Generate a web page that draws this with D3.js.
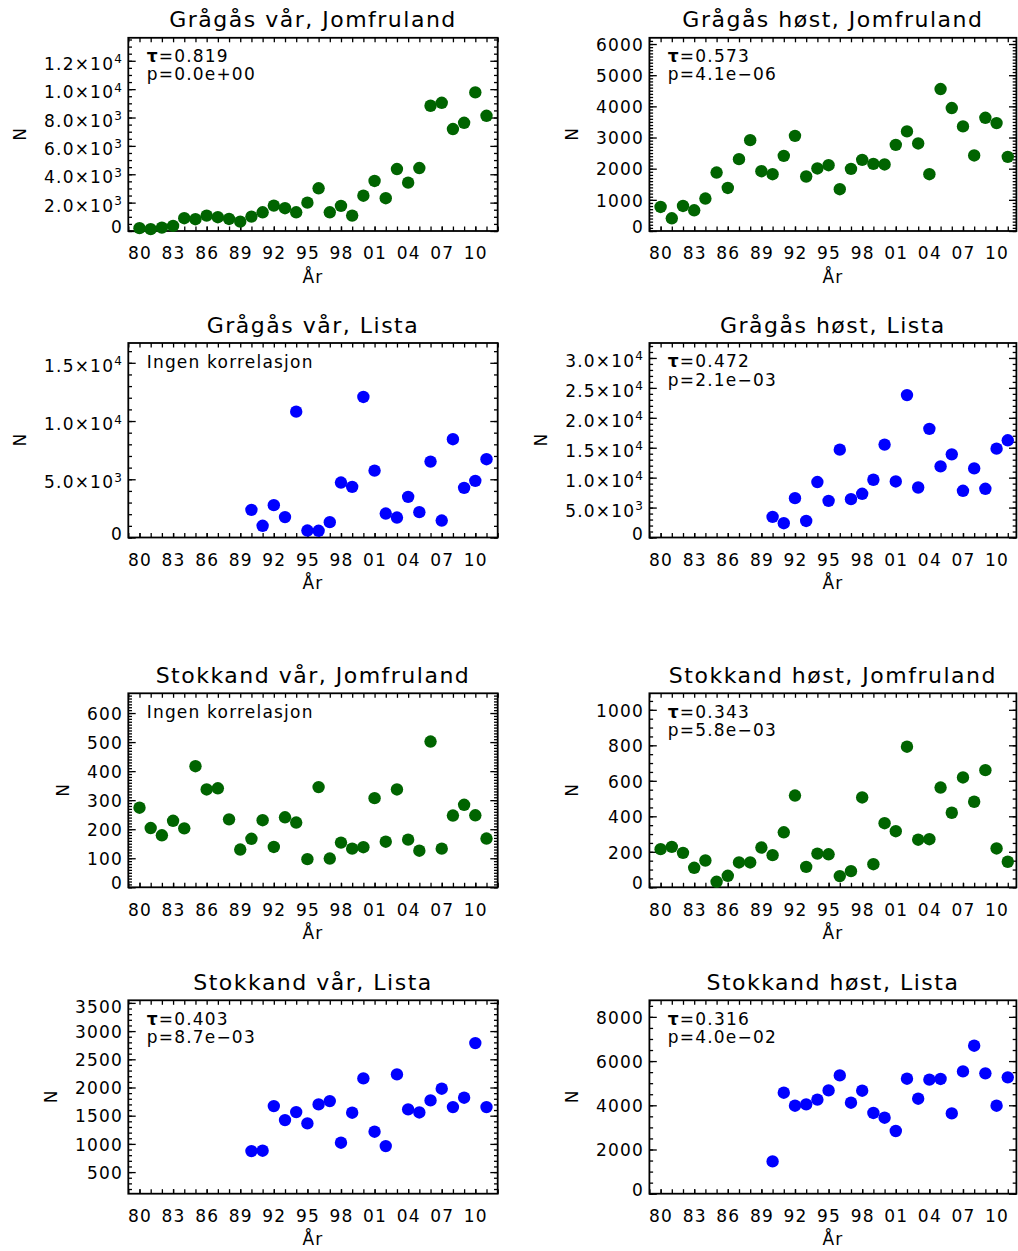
<!DOCTYPE html>
<html>
<head>
<meta charset="utf-8">
<script src="https://cdn.jsdelivr.net/npm/d3@7"></script>
<style>
  body { margin: 0; background: #fff; }
  text { font-family: "DejaVu Sans", sans-serif; fill: #000; }
</style>
</head>
<body>
<svg id="chart"></svg>
<script>
// Years for the two stations
const yearsJomfruland = [1980, 1981, 1982, 1983, 1984, 1985, 1986, 1987, 1988, 1989,
    1990, 1991, 1992, 1993, 1994, 1995, 1996, 1997, 1998, 1999,
    2000, 2001, 2002, 2003, 2004, 2005, 2006, 2007, 2008, 2009, 2010, 2011];
const yearsLista = [1990, 1991, 1992, 1993, 1994, 1995, 1996, 1997, 1998, 1999,
    2000, 2001, 2002, 2003, 2004, 2005, 2006, 2007, 2008, 2009, 2010, 2011];

// x tick labels
const xTickYears = [1980, 1983, 1986, 1989, 1992, 1995, 1998, 2001, 2004, 2007, 2010];
const xTickLabels = ["80", "83", "86", "89", "92", "95", "98", "01", "04", "07", "10"];

// Counts
const gragasVarJomfruland = [200, 130, 240, 360, 900, 830, 1085, 970, 850, 660, 1015, 1320, 1790, 1605, 1320, 2000,
    3010, 1320, 1770, 1085, 2490, 3530, 2310, 4370, 3410, 4440, 8830, 9040, 7190, 7630, 9770, 8120];
const gragasHostJomfruland = [772, 408, 804, 665, 1042, 1877, 1382, 2305, 2916, 1919, 1823, 2411, 3054, 1749, 2006, 2112,
    1341, 1993, 2283, 2154, 2135, 2765, 3196, 2810, 1823, 4556, 3945, 3356, 2424, 3633, 3463, 2379];
const gragasVarLista = [2376, 1003, 2779, 1750, 10806, 600, 575, 1320, 4717, 4348, 12066,
    5746, 2058, 1715, 3490, 2178, 6518, 1458, 8439, 4262, 4862, 6724];
const gragasHostLista = [3440, 2383, 6578, 2769, 9263, 6125, 14683, 6410, 7299, 9649, 15522,
    9363, 23794, 8356, 18156, 11880, 13894, 7803, 11545, 8138, 14850, 16243];
const stokkandVarJomfruland = [274, 204, 179, 229, 203, 417, 337, 341, 234, 130, 167, 231, 139, 241, 223, 97,
    345, 99, 154, 133, 138, 307, 157, 337, 164, 126, 502, 133, 247, 284, 248, 168];
const stokkandHostJomfruland = [215, 228, 194, 110, 151, 31, 65, 140, 140, 224, 181, 310, 517, 115, 190, 186,
    63, 91, 506, 130, 361, 316, 792, 268, 271, 562, 420, 619, 482, 660, 219, 144];
const stokkandVarLista = [872, 879, 1670, 1422, 1564, 1363, 1700, 1759, 1021, 1553, 2161,
    1216, 961, 2232, 1612, 1558, 1771, 1979, 1652, 1819, 2787, 1652];
const stokkandHostLista = [1462, 4570, 3982, 4041, 4254, 4674, 5353, 4118, 4661, 3652, 3439,
    2837, 5204, 4299, 5159, 5190, 3634, 5534, 6697, 5444, 3982, 5263];

// Titles and test results
const panelTitles = ["Grågås vår, Jomfruland", "Grågås høst, Jomfruland", "Grågås vår, Lista", "Grågås høst, Lista",
    "Stokkand vår, Jomfruland", "Stokkand høst, Jomfruland", "Stokkand vår, Lista", "Stokkand høst, Lista"];
const tauValues = ["0.819", "0.573", null, "0.472", null, "0.343", "0.403", "0.316"];
const pValues = ["0.0e+00", "4.1e\u221206", null, "2.1e\u221203", null, "5.8e\u221203", "8.7e\u221203", "4.0e\u221202"];
const noCorrText = "Ingen korrelasjon";

// y axis ranges and ticks
const yDomains = [[0, 13620], [0, 6200], [0, 16700], [0, 32500], [0, 668], [0, 1093], [117, 3546], [0, 8750]];
const yMajorTicks = [
    [0, 2000, 4000, 6000, 8000, 10000, 12000],
    [0, 1000, 2000, 3000, 4000, 5000, 6000],
    [0, 5000, 10000, 15000],
    [0, 5000, 10000, 15000, 20000, 25000, 30000],
    [0, 100, 200, 300, 400, 500, 600],
    [0, 200, 400, 600, 800, 1000],
    [500, 1000, 1500, 2000, 2500, 3000, 3500],
    [0, 2000, 4000, 6000, 8000]
];
const yMinorSteps = [500, 100, 1000, 1000, 10, 50, 100, 500];
const ySci = [true, false, true, true, false, false, false, false];

const seriesList = [gragasVarJomfruland, gragasHostJomfruland, gragasVarLista, gragasHostLista,
    stokkandVarJomfruland, stokkandHostJomfruland, stokkandVarLista, stokkandHostLista];
const yearList = [yearsJomfruland, yearsJomfruland, yearsLista, yearsLista,
    yearsJomfruland, yearsJomfruland, yearsLista, yearsLista];
const dotColors = ["#006400", "#006400", "#0000ff", "#0000ff", "#006400", "#006400", "#0000ff", "#0000ff"];

// Layout of the 2 x 4 grid
const colLeft = [128.3, 649.4];
const colWidth = [369.4, 367.0];
const colYearMax = [2012, 2011.77];
const rowTop = [37.8, 343, 693.3, 1000.3];
const rowBottom = [231, 537.5, 887.3, 1193.7];

const labelSize = 17;
const majorLen = 7.4, minorLen = 3.7, xTickLen = 4.5;

const svg = d3.select("#chart")
    .attr("width", 1018)
    .attr("height", 1251);

panelTitles.forEach((title, i) => drawPanel(i));

function drawPanel(i) {
    const col = i % 2, row = Math.floor(i / 2);
    const left = colLeft[col], top = rowTop[row];
    const width = colWidth[col], height = rowBottom[row] - top;

    const g = svg.append("g")
        .attr("transform", `translate(${left},${top})`);

    const x = d3.scaleLinear().domain([1979, colYearMax[col]]).range([0, width]);
    const y = d3.scaleLinear().domain(yDomains[i]).range([height, 0]);

    const yearTicks = d3.range(1979, 2013).filter(v => v <= colYearMax[col]);
    const [y0, y1] = yDomains[i];
    const step = yMinorSteps[i];
    const yMinor = d3.range(Math.ceil(y0 / step) * step, y1, step);

    // frame
    g.append("rect")
        .attr("width", width)
        .attr("height", height)
        .attr("fill", "none")
        .attr("stroke", "#000")
        .attr("stroke-width", 1.8);

    // x ticks, bottom with labels
    const xAxis = g.append("g")
        .attr("transform", `translate(0,${height})`)
        .call(d3.axisBottom(x).tickValues(xTickYears)
            .tickFormat((d, k) => xTickLabels[k])
            .tickSize(-xTickLen).tickSizeOuter(0).tickPadding(16.2));
    styleAxis(xAxis);

    g.append("g")
        .attr("transform", `translate(0,${height})`)
        .call(d3.axisBottom(x).tickValues(yearTicks).tickFormat("").tickSize(-xTickLen).tickSizeOuter(0))
        .call(styleAxis);
    g.append("g")
        .call(d3.axisTop(x).tickValues(yearTicks).tickFormat("").tickSize(-xTickLen).tickSizeOuter(0))
        .call(styleAxis);

    // y ticks, left with labels
    const yAxis = g.append("g")
        .call(d3.axisLeft(y).tickValues(yMajorTicks[i])
            .tickFormat(d3.format("d"))
            .tickSize(-majorLen).tickSizeOuter(0).tickPadding(5.3));
    styleAxis(yAxis);

    yAxis.selectAll(".tick text").each(function (d) {
        const t = d3.select(this);
        const sci = ySci[i] && d !== 0;
        let center = y(d) + (sci ? 2.3 : 0);
        center = Math.min(Math.max(center, 6.4), height - 4.6);
        t.attr("dy", null).attr("y", center - y(d) + 0.365 * labelSize);
        if (sci) {
            const e = Math.floor(Math.log10(d));
            const m = d / Math.pow(10, e);
            t.text(null);
            t.append("tspan").text(m.toFixed(1) + "\u00d710");
            t.append("tspan").attr("dy", -6.5).style("font-size", "12px").text(e);
        }
    });

    g.append("g")
        .call(d3.axisLeft(y).tickValues(yMinor).tickFormat("").tickSize(-minorLen).tickSizeOuter(0))
        .call(styleAxis);
    g.append("g")
        .attr("transform", `translate(${width},0)`)
        .call(d3.axisRight(y).tickValues(yMajorTicks[i]).tickFormat("").tickSize(-majorLen).tickSizeOuter(0))
        .call(styleAxis);
    g.append("g")
        .attr("transform", `translate(${width},0)`)
        .call(d3.axisRight(y).tickValues(yMinor).tickFormat("").tickSize(-minorLen).tickSizeOuter(0))
        .call(styleAxis);

    // title
    g.append("text")
        .attr("x", width / 2)
        .attr("y", -10.5)
        .attr("text-anchor", "middle")
        .style("font-size", "22px")
        .style("letter-spacing", "1.5px")
        .text(panelTitles[i]);

    // axis titles
    g.append("text")
        .attr("x", width / 2)
        .attr("y", height + 51.6)
        .attr("text-anchor", "middle")
        .style("font-size", labelSize + "px")
        .style("letter-spacing", "1.2px")
        .text("År");

    const labelBox = yAxis.node().getBBox();
    g.append("text")
        .attr("transform", `translate(${labelBox.x - 24},${height / 2}) rotate(-90)`)
        .attr("text-anchor", "middle")
        .attr("dy", "0.36em")
        .style("font-size", labelSize + "px")
        .text("N");

    // test result
    if (tauValues[i]) {
        const t1 = g.append("text")
            .attr("x", 18.4)
            .attr("y", 24.4)
            .style("font-size", labelSize + "px")
            .style("letter-spacing", "1.2px");
        t1.append("tspan").style("font-weight", "bold").text("\u03c4");
        t1.append("tspan").text("=" + tauValues[i]);
        g.append("text")
            .attr("x", 18.4)
            .attr("y", 42.7)
            .style("font-size", labelSize + "px")
            .style("letter-spacing", "1.2px")
            .text("p=" + pValues[i]);
    } else {
        g.append("text")
            .attr("x", 18.4)
            .attr("y", 25.2)
            .style("font-size", labelSize + "px")
            .style("letter-spacing", "1.2px")
            .text(noCorrText);
    }

    // dots
    g.selectAll("circle")
        .data(d3.zip(yearList[i], seriesList[i]))
        .join("circle")
        .attr("cx", d => x(d[0]))
        .attr("cy", d => y(d[1]))
        .attr("r", 6.2)
        .attr("fill", dotColors[i]);
}

function styleAxis(sel) {
    sel.attr("font-family", null).attr("font-size", null);
    sel.select(".domain").remove();
    sel.selectAll(".tick line").attr("stroke", "#000").attr("stroke-width", 1.3);
    sel.selectAll(".tick text")
        .style("font-size", labelSize + "px")
        .style("letter-spacing", "1.2px");
}
</script>
</body>
</html>
